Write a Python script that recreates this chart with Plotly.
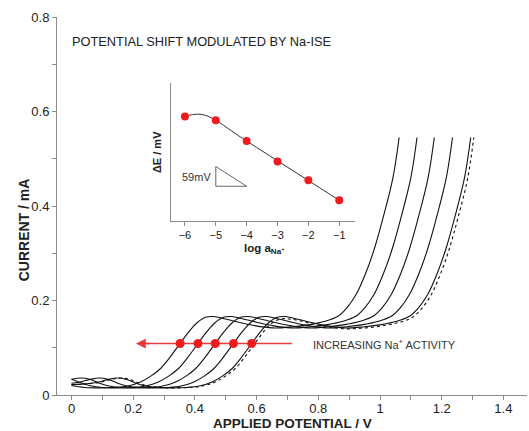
import plotly.graph_objects as go

# ---- Polarisation curves: applied potential (V) vs current (mA), one per log a(Na+) ----
pot_m1 = [0.0, 0.042, 0.092, 0.142, 0.182, 0.222, 0.257, 0.287, 0.317, 0.352, 0.382, 0.407, 0.437, 0.462,
          0.492, 0.542, 0.592, 0.652, 0.712, 0.772, 0.822, 0.862, 0.892, 0.922, 0.952, 0.982, 1.012, 1.042, 1.062]
cur_m1 = [0.020, 0.016, 0.015, 0.016, 0.019, 0.027, 0.040, 0.055, 0.078, 0.109, 0.135, 0.153, 0.165, 0.166,
          0.162, 0.154, 0.147, 0.142, 0.144, 0.149, 0.156, 0.166, 0.184, 0.212, 0.255, 0.310, 0.380, 0.460, 0.545]

pot_m2 = [0.0, 0.035, 0.065, 0.100, 0.150, 0.200, 0.240, 0.280, 0.315, 0.345, 0.375, 0.410, 0.440, 0.465, 0.495,
          0.520, 0.550, 0.600, 0.650, 0.710, 0.770, 0.830, 0.880, 0.920, 0.950, 0.980, 1.010, 1.040, 1.070, 1.100, 1.120]
cur_m2 = [0.0335, 0.025, 0.019, 0.016, 0.015, 0.016, 0.019, 0.027, 0.040, 0.055, 0.078, 0.109, 0.135, 0.153, 0.165,
          0.166, 0.162, 0.154, 0.147, 0.142, 0.144, 0.149, 0.156, 0.166, 0.184, 0.212, 0.255, 0.310, 0.380, 0.460, 0.545]

pot_m3 = [0.0, 0.031, 0.061, 0.091, 0.121, 0.156, 0.206, 0.256, 0.296, 0.336, 0.371, 0.401, 0.431, 0.466, 0.496,
          0.521, 0.551, 0.576, 0.606, 0.656, 0.706, 0.766, 0.826, 0.886, 0.936, 0.976, 1.006, 1.036, 1.066, 1.096,
          1.126, 1.156, 1.176]
cur_m3 = [0.033, 0.036, 0.033, 0.025, 0.019, 0.016, 0.015, 0.016, 0.019, 0.027, 0.040, 0.055, 0.078, 0.109, 0.135,
          0.153, 0.165, 0.166, 0.162, 0.154, 0.147, 0.142, 0.144, 0.149, 0.156, 0.166, 0.184, 0.212, 0.255, 0.310,
          0.380, 0.460, 0.545]

pot_m4 = [0.0, 0.025, 0.060, 0.090, 0.120, 0.150, 0.180, 0.215, 0.265, 0.315, 0.355, 0.395, 0.430, 0.460, 0.490,
          0.525, 0.555, 0.580, 0.610, 0.635, 0.665, 0.715, 0.765, 0.825, 0.885, 0.945, 0.995, 1.035, 1.065, 1.095,
          1.125, 1.155, 1.185, 1.215, 1.235]
cur_m4 = [0.025, 0.027, 0.033, 0.036, 0.033, 0.025, 0.019, 0.016, 0.015, 0.016, 0.019, 0.027, 0.040, 0.055, 0.078,
          0.109, 0.135, 0.153, 0.165, 0.166, 0.162, 0.154, 0.147, 0.142, 0.144, 0.149, 0.156, 0.166, 0.184, 0.212,
          0.255, 0.310, 0.380, 0.460, 0.545]

pot_m5 = [0.0, 0.034, 0.084, 0.119, 0.149, 0.179, 0.209, 0.239, 0.274, 0.324, 0.374, 0.414, 0.454, 0.489, 0.519,
          0.549, 0.584, 0.614, 0.639, 0.669, 0.694, 0.724, 0.774, 0.824, 0.884, 0.944, 1.004, 1.054, 1.094, 1.124,
          1.154, 1.184, 1.214, 1.244, 1.274, 1.294]
cur_m5 = [0.022, 0.023, 0.027, 0.033, 0.036, 0.033, 0.025, 0.019, 0.016, 0.015, 0.016, 0.019, 0.027, 0.040, 0.055,
          0.078, 0.109, 0.135, 0.153, 0.165, 0.166, 0.162, 0.154, 0.147, 0.142, 0.144, 0.149, 0.156, 0.166, 0.184,
          0.212, 0.255, 0.310, 0.380, 0.460, 0.545]

pot_m6 = [0.0, 0.044, 0.094, 0.129, 0.159, 0.189, 0.219, 0.249, 0.284, 0.334, 0.384, 0.424, 0.464, 0.499, 0.529,
          0.559, 0.594, 0.624, 0.649, 0.679, 0.704, 0.734, 0.784, 0.834, 0.894, 0.954, 1.014, 1.064, 1.104, 1.134,
          1.164, 1.194, 1.224, 1.254, 1.284, 1.304]
cur_m6 = [0.022, 0.023, 0.027, 0.033, 0.036, 0.033, 0.025, 0.019, 0.016, 0.015, 0.016, 0.019, 0.027, 0.040, 0.055,
          0.078, 0.109, 0.135, 0.152, 0.161, 0.161, 0.158, 0.150, 0.144, 0.140, 0.142, 0.147, 0.154, 0.164, 0.182,
          0.210, 0.253, 0.308, 0.378, 0.458, 0.545]

# half-wave points marked on the curves
marker_potential = [0.352, 0.410, 0.466, 0.525, 0.584]
marker_current = [0.109, 0.109, 0.109, 0.109, 0.109]

# horizontal arrow (tail -> tip)
arrow_potential = [0.715, 0.209]
arrow_current = [0.109, 0.109]

# ---- Inset: potential shift vs log activity ----
log_activity = [-6, -5, -4, -3, -2, -1]
delta_e_mv = [250, 239, 177, 116, 60, 0]
fit_log = [-6, -5.75, -5.5, -5.25, -5, -4.75, -4.5, -4.25, -4, -3, -2, -1]
fit_mv = [250, 256, 257, 251, 239, 224, 208, 192, 177, 118, 59, 0]
slope_tri_log = [-5, -5, -4, -5]
slope_tri_mv = [101, 42, 42, 101]

FONT = "Arial, Liberation Sans, sans-serif"
AXIS_GREY = "#8a8a8a"
TEXT = "#222222"
RED = "#ee1c1c"

fig = go.Figure()

curves = [(pot_m1, cur_m1, "solid"), (pot_m2, cur_m2, "solid"), (pot_m3, cur_m3, "solid"),
          (pot_m4, cur_m4, "solid"), (pot_m5, cur_m5, "solid"), (pot_m6, cur_m6, "dot")]
for px, cy, dash in curves:
    fig.add_trace(go.Scatter(x=px, y=cy, mode="lines",
                             line=dict(color="#111111", width=1.1, dash=dash, shape="spline", smoothing=1.0),
                             hoverinfo="skip", showlegend=False))

fig.add_trace(go.Scatter(x=[arrow_potential[0], arrow_potential[1] + 0.012], y=arrow_current, mode="lines",
                         line=dict(color="#e83a3a", width=1.3), showlegend=False, hoverinfo="skip"))
fig.add_trace(go.Scatter(x=marker_potential, y=marker_current, mode="markers",
                         marker=dict(color=RED, size=9, line=dict(width=0)), showlegend=False))

# inset traces
fig.add_trace(go.Scatter(x=fit_log, y=fit_mv, mode="lines", xaxis="x2", yaxis="y2",
                         line=dict(color="#333333", width=1, shape="spline", smoothing=1.0),
                         showlegend=False, hoverinfo="skip"))
fig.add_trace(go.Scatter(x=slope_tri_log, y=slope_tri_mv, mode="lines", xaxis="x2", yaxis="y2",
                         line=dict(color="#555555", width=0.9), showlegend=False, hoverinfo="skip"))
fig.add_trace(go.Scatter(x=log_activity, y=delta_e_mv, mode="markers", xaxis="x2", yaxis="y2",
                         marker=dict(color=RED, size=8, line=dict(width=0)), showlegend=False))

axis_common = dict(showgrid=False, zeroline=False, showline=True, linecolor=AXIS_GREY, linewidth=1,
                   ticks="outside", tickcolor=AXIS_GREY, ticklen=4, tickwidth=1,
                   tickfont=dict(family=FONT, size=13, color=TEXT))

fig.update_layout(
    width=529, height=431,
    margin=dict(l=57, r=2, t=17, b=36),
    paper_bgcolor="white", plot_bgcolor="white",
    xaxis=dict(range=[-0.047, 1.4765], tick0=0, dtick=0.2, ticklabelstandoff=-3,
               minor=dict(dtick=0.1, ticks="outside", ticklen=4, tickcolor=AXIS_GREY),
               **axis_common),
    yaxis=dict(range=[0, 0.8], tick0=0, dtick=0.2,
               minor=dict(dtick=0.1, ticks="outside", ticklen=4, tickcolor=AXIS_GREY),
               **axis_common),
    xaxis2=dict(domain=[0.242, 0.634], anchor="y2", range=[-6.46, -0.49], tickvals=log_activity,
                showgrid=False, zeroline=False, showline=True, linecolor=AXIS_GREY, linewidth=1,
                ticks="outside", tickcolor=AXIS_GREY, ticklen=4,
                tickfont=dict(family=FONT, size=11, color=TEXT)),
    yaxis2=dict(domain=[0.461, 0.826], anchor="x2", range=[-61, 351],
                showgrid=False, zeroline=False, showline=True, linecolor=AXIS_GREY, linewidth=1,
                ticks="", showticklabels=False),
    showlegend=False,
)

fig.add_annotation(x=arrow_potential[1], y=arrow_current[1], ax=arrow_potential[1] + 0.05, ay=arrow_current[1],
                   xref="x", yref="y", axref="x", ayref="y", text="", showarrow=True,
                   arrowhead=2, arrowsize=1.5, arrowwidth=1.3, arrowcolor="#e83a3a")

fig.add_annotation(x=0.776, y=0.109, xref="x", yref="y", xanchor="left", yanchor="middle",
                   text="INCREASING Na<sup>+</sup> ACTIVITY", showarrow=False,
                   font=dict(family=FONT, size=11, color="#333333"))
fig.add_annotation(x=-0.005, y=0.749, xref="x", yref="y", xanchor="left", yanchor="middle",
                   text="POTENTIAL SHIFT MODULATED BY Na-ISE", showarrow=False,
                   font=dict(family=FONT, size=12.8, color="#222222"))

# axis titles
fig.add_annotation(x=0.5, y=-0.0755, xref="paper", yref="paper", xanchor="center", yanchor="middle",
                   text="<b>APPLIED POTENTIAL / V</b>", showarrow=False,
                   font=dict(family=FONT, size=13.5, color=TEXT))
fig.add_annotation(x=-0.07, y=0.436, xref="paper", yref="paper", xanchor="center", yanchor="middle",
                   text="<b>CURRENT / mA</b>", textangle=-90, showarrow=False,
                   font=dict(family=FONT, size=14, color=TEXT))

# inset labels
fig.add_annotation(x=0.4415, y=0.386, xref="paper", yref="paper", xanchor="center", yanchor="middle",
                   text="<b>log a<sub>Na<sup>+</sup></sub></b>", showarrow=False,
                   font=dict(family=FONT, size=11.5, color=TEXT))
fig.add_annotation(x=0.213, y=0.643, xref="paper", yref="paper", xanchor="center", yanchor="middle",
                   text="<b>\u0394E / mV</b>", textangle=-90, showarrow=False,
                   font=dict(family=FONT, size=11, color=TEXT))
fig.add_annotation(x=-5.1, y=70, xref="x2", yref="y2", xanchor="right", yanchor="middle",
                   text="59mV", showarrow=False, font=dict(family=FONT, size=11, color="#333333"))

fig.write_html("out.html")
